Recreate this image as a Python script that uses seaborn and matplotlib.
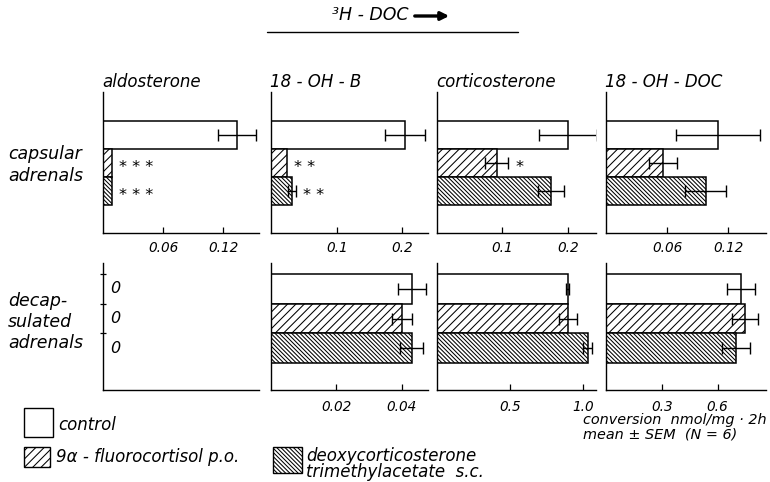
import matplotlib
matplotlib.use("Agg")
import matplotlib.pyplot as plt
import seaborn as sns
import pandas as pd
from matplotlib.patches import Rectangle
from matplotlib.lines import Line2D

# -----------------------------
# Data (conversion nmol/mg . 2h, mean and SEM)
# -----------------------------
steroids = ["aldosterone", "18 - OH - B", "corticosterone", "18 - OH - DOC"]
treatments = ["control", "9α - fluorocortisol p.o.",
              "deoxycorticosterone\ntrimethylacetate  s.c."]
row_labels = ["capsular\nadrenals", "decap-\nsulated\nadrenals"]

# capsular adrenals
caps_aldo = [0.134, 0.009, 0.009]
caps_aldo_sem = [0.019, 0.0, 0.0]
caps_18ohb = [0.204, 0.024, 0.032]
caps_18ohb_sem = [0.030, 0.0, 0.006]
caps_cort = [0.200, 0.091, 0.174]
caps_cort_sem = [0.044, 0.018, 0.020]
caps_18ohdoc = [0.110, 0.056, 0.098]
caps_18ohdoc_sem = [0.041, 0.014, 0.020]
caps_stars = [["", "***", "***"], ["", "**", "**"], ["", "*", ""], ["", "", ""]]

# decapsulated adrenals
decaps_aldo = [0.0, 0.0, 0.0]
decaps_aldo_sem = [0.0, 0.0, 0.0]
decaps_18ohb = [0.043, 0.040, 0.043]
decaps_18ohb_sem = [0.0043, 0.003, 0.0036]
decaps_cort = [0.894, 0.898, 1.030]
decaps_cort_sem = [0.012, 0.060, 0.034]
decaps_18ohdoc = [0.726, 0.749, 0.699]
decaps_18ohdoc_sem = [0.076, 0.070, 0.075]
decaps_stars = [["", "", ""]] * 4

caps_ticks = [[0.06, 0.12], [0.1, 0.2], [0.1, 0.2], [0.06, 0.12]]
caps_ticklabels = [["0.06", "0.12"], ["0.1", "0.2"], ["0.1", "0.2"], ["0.06", "0.12"]]
decaps_ticks = [[], [0.02, 0.04], [0.5, 1.0], [0.3, 0.6]]
decaps_ticklabels = [[], ["0.02", "0.04"], ["0.5", "1.0"], ["0.3", "0.6"]]

rows = [
    ([caps_aldo, caps_18ohb, caps_cort, caps_18ohdoc],
     [caps_aldo_sem, caps_18ohb_sem, caps_cort_sem, caps_18ohdoc_sem],
     caps_stars, caps_ticks, caps_ticklabels),
    ([decaps_aldo, decaps_18ohb, decaps_cort, decaps_18ohdoc],
     [decaps_aldo_sem, decaps_18ohb_sem, decaps_cort_sem, decaps_18ohdoc_sem],
     decaps_stars, decaps_ticks, decaps_ticklabels),
]

# -----------------------------
# Layout (pixels)
# -----------------------------
W, H = 770, 482
col_left = [103, 271, 437, 606]
col_right = [259, 428, 596, 766]
row_top = [92, 263]
row_bottom = [233, 390]
row_xmax = [[0.156, 0.239, 0.243, 0.157], [0.05, 0.048, 1.088, 0.86]]
row_ylim = [(3.5, -1.54), (3.42, -0.88)]
row_pad = [6, 7]
hatches = [None, "////", "\\\\\\\\\\\\\\\\"]

sns.set_theme(style="ticks")
plt.rcParams["font.family"] = ["DejaVu Sans"]
plt.rcParams["font.style"] = "italic"
plt.rcParams["text.color"] = "black"
plt.rcParams["xtick.color"] = "black"
plt.rcParams["ytick.color"] = "black"
plt.rcParams["hatch.linewidth"] = 0.75
plt.rcParams["hatch.color"] = "black"

fig = plt.figure(figsize=(W / 100, H / 100), dpi=100)
fig.patch.set_facecolor("white")


def px_box(x0, y0, x1, y1):
    return [x0 / W, 1 - y1 / H, (x1 - x0) / W, (y1 - y0) / H]


for r, (values, sems, stars, ticks, ticklabels) in enumerate(rows):
    for c in range(4):
        ax = fig.add_axes(px_box(col_left[c], row_top[r], col_right[c], row_bottom[r]))
        ax.set_facecolor("none")

        df = pd.DataFrame({"treatment": treatments, "value": values[c]})
        sns.barplot(
            data=df,
            x="value",
            y="treatment",
            order=treatments,
            orient="h",
            width=1,
            color="white",
            saturation=1,
            edgecolor="black",
            linewidth=1.1,
            errorbar=None,
            ax=ax
        )

        for i, patch in enumerate(ax.patches[:3]):
            if hatches[i]:
                patch.set_hatch(hatches[i])
            if values[c][i] == 0:
                patch.set_visible(False)

        for i, (v, s) in enumerate(zip(values[c], sems[c])):
            if s > 0:
                ax.errorbar(v, i, xerr=s, fmt="none", ecolor="black",
                            elinewidth=1, capsize=4.5, capthick=1)
            if stars[c][i]:
                ax.annotate(" ".join(stars[c][i]), xy=(v + s, i),
                            xytext=(5, -3), textcoords="offset points",
                            ha="left", va="center", fontsize=11.5)
            if v == 0:
                ax.annotate("0", xy=(0, i), xytext=(5, 0),
                            textcoords="offset points",
                            ha="left", va="center", fontsize=11.5)

        ax.set_xlim(0, row_xmax[r][c])
        ax.set_ylim(*row_ylim[r])
        ax.set_xticks(ticks[c])
        ax.set_xticklabels(ticklabels[c], fontsize=9.8, style="italic")
        ax.tick_params(axis="x", direction="in", length=4, width=0.9,
                       pad=row_pad[r], color="black")
        if r == 1 and c == 0:
            ax.set_yticks([-0.5, 0.5, 1.5])
            ax.set_yticklabels([])
            ax.tick_params(axis="y", direction="inout", length=4, width=0.9)
        else:
            ax.set_yticks([])
        ax.set_xlabel("")
        ax.set_ylabel("")
        sns.despine(ax=ax)
        for sp in ["left", "bottom"]:
            ax.spines[sp].set_linewidth(1.0)
            ax.spines[sp].set_color("black")

# Panel titles
for c, name in enumerate(steroids):
    fig.text((col_left[c] - 1) / W, 1 - 82 / H, name, fontsize=12,
             ha="left", va="center")

# Row labels
fig.text(8 / W, 1 - 165 / H, row_labels[0], fontsize=12.5, ha="left",
         va="center", linespacing=1.25)
fig.text(8 / W, 1 - 322 / H, row_labels[1], fontsize=12.5, ha="left",
         va="center", linespacing=1.2)

# Header: 3H-DOC with arrow and underline
fig.text(332 / W, 1 - 15 / H, "³H - DOC", fontsize=12.5, ha="left", va="center")
fig.axes[0].annotate("", xy=(452, H - 16), xytext=(412, H - 16),
                     xycoords="figure pixels", textcoords="figure pixels",
                     arrowprops=dict(arrowstyle="-|>", lw=2.4, color="black",
                                     mutation_scale=12),
                     annotation_clip=False)
fig.add_artist(Line2D([267 / W, 518 / W], [1 - 32 / H] * 2,
                      transform=fig.transFigure, color="black", lw=1))

# Legend
legend_boxes = [(24, 408, 53, 437), (24, 447, 50, 467), (273, 447, 302, 473)]
legend_text_pos = [(58, 425), (56, 457), (306, 464)]
for (x0, y0, x1, y1), h, label, (tx, ty) in zip(legend_boxes, hatches,
                                                 treatments, legend_text_pos):
    fig.add_artist(Rectangle((x0 / W, 1 - y1 / H), (x1 - x0) / W, (y1 - y0) / H,
                             transform=fig.transFigure, facecolor="white",
                             edgecolor="black", lw=1, hatch=h))
    fig.text(tx / W, 1 - ty / H, label, fontsize=12, ha="left", va="center",
             linespacing=0.82)

fig.text(583 / W, 1 - 420 / H, "conversion  nmol/mg · 2h", fontsize=10.4,
         ha="left", va="center")
fig.text(583 / W, 1 - 434 / H, "mean ± SEM  (N = 6)", fontsize=10.4,
         ha="left", va="center")

plt.savefig("out.png", dpi=100)
